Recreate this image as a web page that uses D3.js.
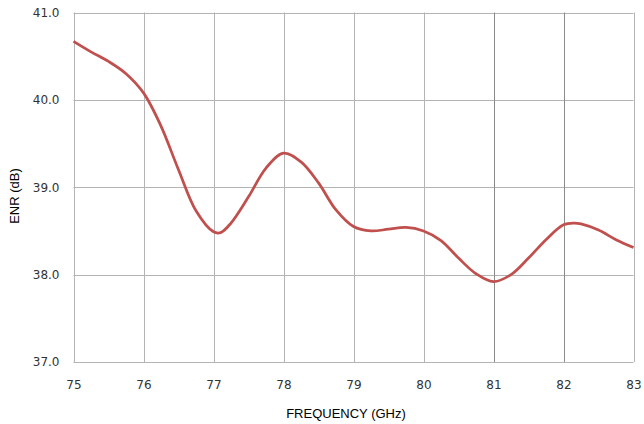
<!DOCTYPE html>
<html>
<head>
<meta charset="utf-8">
<script src="https://cdn.jsdelivr.net/npm/d3@7"></script>
<style>
  html, body { margin: 0; padding: 0; background: #fff; }
  svg { display: block; }
</style>
</head>
<body>
<svg id="chart" width="644" height="424"></svg>
<script>
const freqs = [75, 75.25, 75.5, 75.75, 76, 76.25, 76.5, 76.75, 77, 77.1, 77.25, 77.5, 77.75, 78, 78.25, 78.5, 78.75, 79, 79.25, 79.5, 79.75, 80, 80.25, 80.5, 80.75, 81, 81.25, 81.5, 81.75, 82, 82.15, 82.25, 82.5, 82.75, 83];
const enr   = [40.67, 40.55, 40.44, 40.30, 40.08, 39.70, 39.20, 38.73, 38.49, 38.48, 38.59, 38.89, 39.22, 39.39, 39.29, 39.05, 38.74, 38.55, 38.50, 38.52, 38.54, 38.50, 38.39, 38.19, 38.01, 37.92, 38.00, 38.19, 38.40, 38.57, 38.59, 38.58, 38.51, 38.40, 38.31];
const xTicks = [75, 76, 77, 78, 79, 80, 81, 82, 83];
const yTicks = [37.0, 38.0, 39.0, 40.0, 41.0];
const xTitle = "FREQUENCY (GHz)";
const yTitle = "ENR (dB)";

const svg = d3.select("#chart");
const m = { left: 73.5, right: 633.5, top: 12.5, bottom: 362 };
const x = d3.scaleLinear().domain([75, 83]).range([m.left, m.right]);
const y = d3.scaleLinear().domain([37, 41]).range([m.bottom, m.top]);

// gridlines
const g = svg.append("g");
g.selectAll("line.h").data(yTicks).join("line")
  .attr("x1", m.left).attr("x2", m.right)
  .attr("y1", d => Math.round(y(d)) + 0.5).attr("y2", d => Math.round(y(d)) + 0.5)
  .attr("stroke", "#b4b4b4").attr("stroke-width", 1);
g.selectAll("line.v").data(xTicks).join("line")
  .attr("y1", m.top).attr("y2", m.bottom)
  .attr("x1", d => Math.round(x(d)) + 0.5).attr("x2", d => Math.round(x(d)) + 0.5)
  .attr("stroke", d => (d === 81 || d === 82) ? "#8a8a8a" : "#b4b4b4").attr("stroke-width", 1);

// axes labels via d3 axes
const xAxis = svg.append("g").attr("transform", `translate(0,${m.bottom})`)
  .call(d3.axisBottom(x).tickValues(xTicks).tickFormat(d3.format("d")).tickSize(0).tickPadding(18));
const yAxis = svg.append("g").attr("transform", `translate(${m.left},0)`)
  .call(d3.axisLeft(y).tickValues(yTicks).tickFormat(d3.format(".1f")).tickSize(0).tickPadding(14));
[xAxis, yAxis].forEach(a => {
  a.select(".domain").remove();
  a.selectAll("text").attr("font-family", "DejaVu Sans, sans-serif").attr("font-size", 12).attr("fill", "#333");
});

// line
const line = d3.line().x((d, i) => x(freqs[i])).y(d => y(d)).curve(d3.curveCatmullRom.alpha(0.5));
svg.append("path").datum(enr)
  .attr("d", line)
  .attr("fill", "none")
  .attr("stroke", "#c0504d")
  .attr("stroke-width", 2.75)
  .attr("stroke-linejoin", "round");

// titles
svg.append("text").attr("x", 346).attr("y", 418)
  .attr("text-anchor", "middle")
  .attr("font-family", "Liberation Sans, Arial, sans-serif").attr("font-size", 13).attr("fill", "#000")
  .text(xTitle);
svg.append("text").attr("transform", "translate(19,196) rotate(-90)")
  .attr("text-anchor", "middle")
  .attr("font-family", "Liberation Sans, Arial, sans-serif").attr("font-size", 13).attr("fill", "#000")
  .text(yTitle);
</script>
</body>
</html>
